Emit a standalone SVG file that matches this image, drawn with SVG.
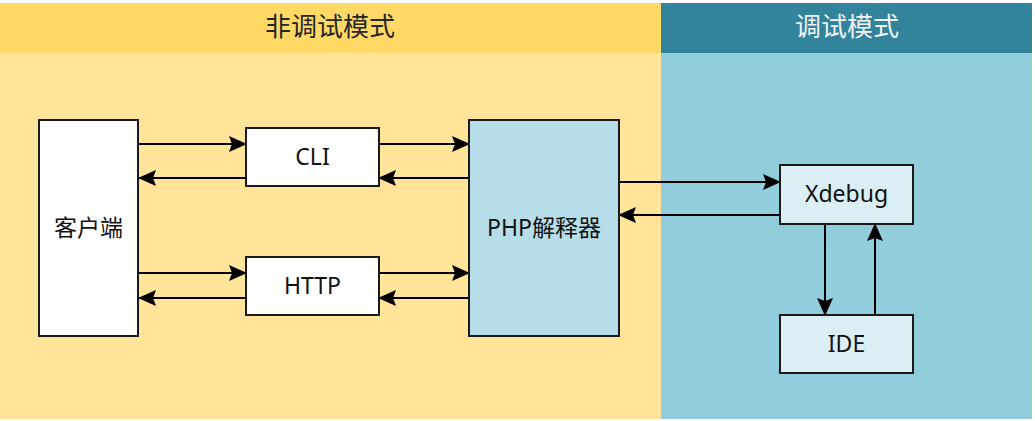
<svg xmlns="http://www.w3.org/2000/svg" width="1035" height="421" viewBox="0 0 1035 421">
<defs>
<style>
text{font-family:"Noto Sans","Noto Sans CJK SC",sans-serif;text-anchor:middle}
.node{stroke:#1a1a1a;stroke-width:2}
.lbl{font-size:23px;fill:#111}
.hdr{font-size:26px}
.con{stroke:#000;stroke-width:2;fill:none;marker-end:url(#ah)}
</style>
<marker id="ah" viewBox="0 0 18 18" refX="17" refY="9" markerWidth="18" markerHeight="18" markerUnits="userSpaceOnUse" orient="auto">
<path d="M0,1 L18,9 L0,17 L3,9 Z" fill="#000"/>
</marker>
</defs>
<rect width="1035" height="421" fill="#fff"/>
<g id="lane-normal">
<rect x="0" y="53" width="661" height="366" fill="#FFE49A"/>
<rect x="0" y="3" width="661" height="50" fill="#FFD966"/>
<text class="hdr" x="330" y="36" fill="#262626">非调试模式</text>
</g>
<g id="lane-debug">
<rect x="661" y="53" width="371" height="366" fill="#92CDDC"/>
<rect x="661" y="3" width="371" height="50" fill="#31849B"/>
<text class="hdr" x="847" y="36" fill="#F2F2F2">调试模式</text>
</g>
<g id="connectors">
<line class="con" x1="139" y1="144" x2="246" y2="144"/>
<line class="con" x1="246" y1="178" x2="139" y2="178"/>
<line class="con" x1="379" y1="144" x2="469" y2="144"/>
<line class="con" x1="469" y1="178" x2="379" y2="178"/>
<line class="con" x1="139" y1="273" x2="246" y2="273"/>
<line class="con" x1="246" y1="298" x2="139" y2="298"/>
<line class="con" x1="379" y1="273" x2="469" y2="273"/>
<line class="con" x1="469" y1="298" x2="379" y2="298"/>
<line class="con" x1="619" y1="182" x2="780" y2="182"/>
<line class="con" x1="780" y1="215" x2="619" y2="215"/>
<line class="con" x1="825" y1="224" x2="825" y2="315"/>
<line class="con" x1="875" y1="315" x2="875" y2="224"/>
</g>
<g id="client">
<rect class="node" x="39" y="120" width="99" height="216" fill="#fff"/>
<text class="lbl" x="88.5" y="236">客户端</text>
</g>
<g id="cli">
<rect class="node" x="246" y="128" width="133" height="58" fill="#fff"/>
<text class="lbl" x="312.5" y="165">CLI</text>
</g>
<g id="http">
<rect class="node" x="246" y="257" width="133" height="58" fill="#fff"/>
<text class="lbl" x="312.5" y="294">HTTP</text>
</g>
<g id="php">
<rect class="node" x="469" y="120" width="150" height="216" fill="#B7DDE8"/>
<text class="lbl" x="544" y="236">PHP解释器</text>
</g>
<g id="xdebug">
<rect class="node" x="780" y="165" width="133" height="59" fill="#DAEEF3"/>
<text class="lbl" x="846.5" y="202">Xdebug</text>
</g>
<g id="ide">
<rect class="node" x="780" y="315" width="133" height="58" fill="#DAEEF3"/>
<text class="lbl" x="846.5" y="352">IDE</text>
</g>
</svg>
